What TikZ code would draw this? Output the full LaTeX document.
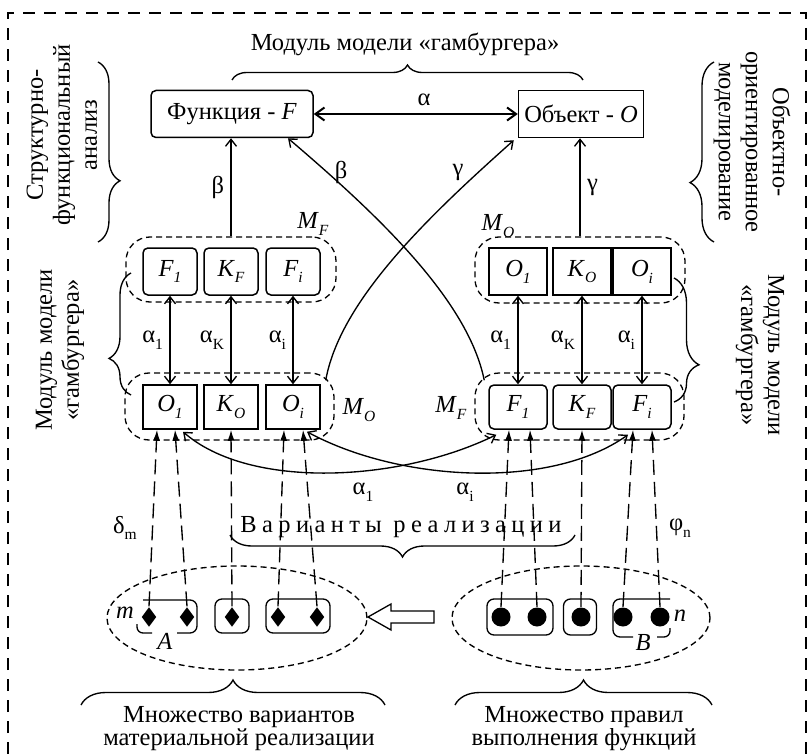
\documentclass[tikz,border=0pt]{standalone}
\usepackage{fontspec}
\setmainfont{Liberation Serif}
\usetikzlibrary{arrows.meta,decorations.pathreplacing,calc,shapes.geometric}
\newcommand{\lo}[1]{\raisebox{-0.28em}{\fontsize{15.5}{15.5}\selectfont #1}}
\newcommand{\vs}[2]{\textit{#1}\lo{\textit{#2}}}
\newcommand{\gs}[2]{#1\lo{#2}}
\begin{document}
\begin{tikzpicture}[x=1pt,y=-1pt,line width=1.35pt,font=\fontsize{24.5}{27}\selectfont,
  rb/.style={draw,line width=1.5pt,rounded corners=5pt,inner sep=0pt},
  sb/.style={draw,line width=1.5pt,inner sep=0pt},
  grp/.style={draw,line width=1.3pt,dash pattern=on 6pt off 4pt,rounded corners=24pt,inner sep=0pt},
  arr/.style={-{Straight Barb[length=7pt,width=11pt]}},
  dbl/.style={{Straight Barb[length=7pt,width=11pt]}-{Straight Barb[length=7pt,width=11pt]}},
  darr/.style={dash pattern=on 15pt off 7pt,-{Latex[length=11pt,width=7pt]}},
  brc/.style 2 args={decorate,decoration={brace,amplitude=#1,aspect=#2}},
  cont/.style={draw,line width=1.3pt,rounded corners=7pt,inner sep=0pt},
  dia/.style={diamond,fill,inner sep=0pt,minimum width=15pt,minimum height=20pt},
  dot/.style={circle,fill,inner sep=0pt,minimum size=19pt},
  ell/.style={ellipse,draw,dash pattern=on 6pt off 4pt,inner sep=0pt}
]
\useasboundingbox (0,0) rectangle (811,754);
% outer frame
\draw[line width=2.2pt,dash pattern=on 12pt off 9pt] (8,775) -- (8,13) -- (806,13) -- (806,775);

% title
\node (title) at (405,44) {Модуль модели «гамбургера»};
\draw[brc={15}{0.5}] (232,80) -- (583,80);

% top boxes
\node[rb,minimum width=162,minimum height=47] (F) at (232,114) {Функция - \textit{F}};
\node[sb,minimum width=125,minimum height=47] (O) at (581,114) {Объект - \textit{O}};
\draw[line width=2pt,{Straight Barb[length=9pt,width=13pt]}-{Straight Barb[length=9pt,width=13pt]}] (F) -- (O);
\node (la) at (424,100) {α};

% side texts
\node[rotate=90,align=center] (tSFA) at (62,135) {Структурно-\\функциональный\\анализ};
\draw[brc={22}{0.66}] (98,62) -- (98,242);
\node[rotate=-90,align=center] (tOOM) at (752,142) {Объектно-\\ориентированное\\моделирование};
\draw[brc={24}{0.33}] (714,242) -- (714,62);
\node[rotate=90,align=center] (tML) at (60,350) {Модуль модели\\«гамбургера»};
\draw[brc={22}{0.3}] (131,395) -- (131,273);
\node[rotate=-90,align=center] (tMR) at (760,355) {Модуль модели\\«гамбургера»};
\draw[brc={25}{0.7}] (674,278) -- (674,402);

% groups
\node[grp,minimum width=210,minimum height=65] (gTL) at (231,269.5) {};
\node[grp,minimum width=209,minimum height=67] (gBL) at (229.5,406.5) {};
\node[grp,minimum width=210,minimum height=66] (gTR) at (580,270) {};
\node[grp,minimum width=209,minimum height=67] (gBR) at (579.5,406.5) {};
\node (mF1) at (313,224) {\vs{M}{F}};
\node (mO1) at (498,226) {\vs{M}{O}};
\node (mO2) at (359,410) {\vs{M}{O}};
\node (mF2) at (451,408) {\vs{M}{F}};

% row boxes
\node[rb,minimum width=54,minimum height=47] (tF1) at (170,271.5) {\vs{F}{1}};
\node[rb,minimum width=54,minimum height=47] (tKF) at (231,271.5) {\vs{K}{F}};
\node[rb,minimum width=54,minimum height=47] (tFi) at (293,271.5) {\vs{F}{i}};
\node[sb,minimum width=54,minimum height=44] (bO1) at (170,407) {\vs{O}{1}};
\node[sb,minimum width=54,minimum height=44] (bKO) at (231,407) {\vs{K}{O}};
\node[sb,minimum width=54,minimum height=44] (bOi) at (293,407) {\vs{O}{i}};
\node[sb,minimum width=58,minimum height=47] (tO1) at (518,271.5) {\vs{O}{1}};
\node[sb,minimum width=58,minimum height=47] (tKO) at (582,271.5) {\vs{K}{O}};
\node[sb,minimum width=58,minimum height=47] (tOi) at (642,271.5) {\vs{O}{i}};
\node[rb,minimum width=58,minimum height=44] (bF1) at (518,407) {\vs{F}{1}};
\node[rb,minimum width=58,minimum height=44] (bKF) at (582,407) {\vs{K}{F}};
\node[rb,minimum width=58,minimum height=44] (bFi) at (642,407) {\vs{F}{i}};

% vertical links
\draw[dbl] (tF1) -- (bO1) node[midway,left=3pt] {\gs{α}{1}};
\draw[dbl] (tKF) -- (bKO) node[midway,left=3pt] {\gs{α}{K}};
\draw[dbl] (tFi) -- (bOi) node[midway,left=3pt] {\gs{α}{i}};
\draw[dbl] (tO1) -- (bF1) node[midway,left=3pt] {\gs{α}{1}};
\draw[dbl] (tKO) -- (bKF) node[midway,left=3pt] {\gs{α}{K}};
\draw[dbl] (tOi) -- (bFi) node[midway,left=3pt] {\gs{α}{i}};

% beta gamma
\draw[arr] (gTL.north) -- (gTL.north |- F.south) node[midway,left=3pt] {β};
\draw[arr] (gTR.north) -- (gTR.north |- O.south) node[midway,right=3pt] {γ};
\draw[arr] ($(bOi.north east)+(5,-4)$) .. controls (340,300) and (430,215) .. ($(O.south west)+(-4,2)$);
\draw[arr] ($(bF1.north west)+(-4,-4)$) .. controls (468,300) and (378,215) .. ($(F.south)+(56,0)$);
\node (lb2) at (341,172) {β};
\node (lg2) at (458,172) {γ};

% bottom cross curves
\draw[dbl] ($(bO1.south)+(13,2)$) .. controls (250,490) and (400,482) .. ($(bF1.south west)+(8,5)$);
\draw[dbl] ($(bOi.south)+(14,2)$) .. controls (400,482) and (550,490) .. ($(bFi.south)+(-14,5)$);
\node (la1) at (363,492) {\gs{α}{1}};
\node (lai) at (465,492) {\gs{α}{i}};

% variants label
\node[font=\fontsize{24.5}{27}\selectfont\addfontfeatures{LetterSpace=22}] (var) at (401,527) {Варианты реализации};
\draw[brc={22}{0.5}] (575,535) -- (230,535);
\node (dm) at (125,528) {\gs{δ}{m}};
\node (pn) at (680,528) {\gs{φ}{n}};

% ellipses
\node[ell,minimum width=260,minimum height=104] (eL) at (237,618) {};
\node[ell,minimum width=258,minimum height=104] (eR) at (581,618) {};

% left containers
\node[dia] (d1) at (149,617) {};
\node[dia] (d2) at (187,617) {};
\node[dia] (d3) at (232,617) {};
\node[dia] (d4) at (278,617) {};
\node[dia] (d5) at (317,617) {};
\draw[rounded corners=7pt] (143,600) -- (197,600) -- (197,633) -- (177,633);
\draw[rounded corners=6pt] (152,633) -- (137,633) -- (137,624);
\node[cont,minimum width=34,minimum height=34] (k2) at (232,616) {};
\node[cont,minimum width=64,minimum height=34] (k3) at (298,616) {};
\node (lA) at (165,641) {\textit{A}};
\node (lm) at (125,613) {\textit{m}};

% right containers
\node[dot] (c1) at (501,617) {};
\node[dot] (c2) at (537,617) {};
\node[dot] (c3) at (581,617) {};
\node[dot] (c4) at (623,617) {};
\node[dot] (c5) at (660,617) {};
\node[cont,minimum width=66,minimum height=36] (r1) at (520,617) {};
\node[cont,minimum width=33,minimum height=36] (r2) at (580,617) {};
\draw[rounded corners=7pt] (670,599) -- (613,599) -- (613,637) -- (633,637);
\draw[rounded corners=6pt] (657,637) -- (670,637) -- (670,628);
\node (lB) at (643,643) {\textit{B}};
\node (ln) at (680,616) {\textit{n}};

% hollow arrow
\draw[line width=1.3pt,fill=white] (434,611) -- (391,611) -- (391,604) -- (368,617) -- (391,630) -- (391,623) -- (434,623) -- cycle;

% dashed arrows
\draw[darr] (d1.north) -- ($(bO1.south)+(-13,0)$);
\draw[darr] (d2.north) -- ($(bO1.south)+(5,0)$);
\draw[darr] (d3.north) -- (bKO.south);
\draw[darr] (d4.north) -- ($(bOi.south)+(-9,0)$);
\draw[darr] (d5.north) -- ($(bOi.south)+(10,0)$);
\draw[darr] (c1.north) -- ($(bF1.south)+(-9,0)$);
\draw[darr] (c2.north) -- ($(bF1.south)+(12,0)$);
\draw[darr] (c3.north) -- (bKF.south);
\draw[darr] (c4.north) -- ($(bFi.south)+(-9,0)$);
\draw[darr] (c5.north) -- ($(bFi.south)+(10,0)$);

% bottom braces and texts
\draw[brc={25}{0.5}] (81,705) -- (385,705);
\draw[brc={25}{0.5}] (455,705) -- (712,705);
\node[align=center,font=\fontsize{24.5}{23}\selectfont] (tMV) at (239,729) {Множество вариантов\\материальной реализации};
\node[align=center,font=\fontsize{24.5}{23}\selectfont] (tMP) at (584,729) {Множество правил\\выполнения функций};
\end{tikzpicture}
\end{document}
